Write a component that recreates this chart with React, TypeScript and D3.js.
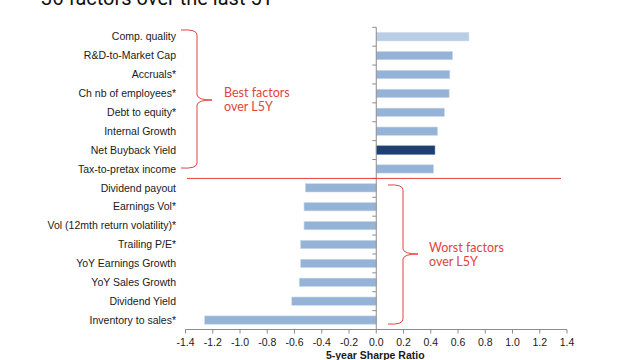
import { useEffect, useRef } from "react";
import * as d3 from "d3";

// factor names, top to bottom
const categories = [
  "Comp. quality",
  "R&D-to-Market Cap",
  "Accruals*",
  "Ch nb of employees*",
  "Debt to equity*",
  "Internal Growth",
  "Net Buyback Yield",
  "Tax-to-pretax income",
  "Dividend payout",
  "Earnings Vol*",
  "Vol (12mth return volatility)*",
  "Trailing P/E*",
  "YoY Earnings Growth",
  "YoY Sales Growth",
  "Dividend Yield",
  "Inventory to sales*",
];

// 5-year Sharpe ratio
const sharpe = [
  0.68, 0.56, 0.54, 0.535, 0.5, 0.45, 0.43, 0.42,
  -0.52, -0.53, -0.53, -0.555, -0.555, -0.565, -0.62, -1.26,
];

// 0 = normal, 1 = light, 2 = highlight
const barKind = [1, 0, 0, 0, 0, 0, 2, 0, 0, 0, 0, 0, 0, 0, 0, 0];

const xTicks = [-1.4, -1.2, -1.0, -0.8, -0.6, -0.4, -0.2, 0.0, 0.2, 0.4, 0.6, 0.8, 1.0, 1.2, 1.4];

const RED = "#e2433d";

function bracePath(xTip: number, xv: number, xPt: number, y0: number, ym: number, y1: number) {
  const p = d3.path();
  const r = 5;
  p.moveTo(xTip, y0);
  p.quadraticCurveTo(xv, y0 - 1, xv, y0 + r);
  p.lineTo(xv, ym - r);
  p.quadraticCurveTo(xv + 1, ym, xPt, ym);
  p.quadraticCurveTo(xv + 1, ym, xv, ym + r);
  p.lineTo(xv, y1 - r);
  p.quadraticCurveTo(xv, y1 + 1, xTip, y1);
  return p.toString();
}

export default function App() {
  const svgRef = useRef<SVGSVGElement>(null);

  useEffect(() => {
    if (!svgRef.current) return;
    document.body.style.margin = "0";
    const svg = d3.select(svgRef.current);
    svg.selectAll("*").remove();

    const x = d3.scaleLinear().domain([-1.4, 1.4]).range([185.5, 567]);
    const y = d3
      .scaleBand<string>()
      .domain(categories)
      .range([27.3, 329.5])
      .paddingInner(0.56)
      .paddingOuter(0.28);
    const step = y.step();
    const top = 27.3;

    // title (cut off at the top of the frame)
    svg
      .append("text")
      .attr("x", 41)
      .attr("y", 5)
      .attr("font-family", "Roboto, 'Liberation Sans', Arial, sans-serif")
      .attr("font-size", "20px")
      .attr("fill", "#111")
      .text("36 factors over the last 5Y");

    // bars
    const colors = ["#95b3d7", "#b9cde5", "#1f3f73"];
    svg
      .append("g")
      .selectAll("rect")
      .data(categories)
      .join("rect")
      .attr("x", (_, i) => x(Math.min(0, sharpe[i])))
      .attr("y", (d) => y(d)!)
      .attr("width", (_, i) => Math.abs(x(sharpe[i]) - x(0)))
      .attr("height", y.bandwidth())
      .attr("fill", (_, i) => colors[barKind[i]])
      .attr("stroke", (_, i) => (barKind[i] === 2 ? "#2c4f86" : "#c9d8ea"))
      .attr("stroke-width", 0.6);

    // vertical axis at zero
    const axisColor = "#8c8c8c";
    const g = svg.append("g");
    g.append("line")
      .attr("x1", x(0))
      .attr("x2", x(0))
      .attr("y1", top)
      .attr("y2", y.range()[1])
      .attr("stroke", axisColor)
      .attr("stroke-width", 1);
    g.selectAll(".yt")
      .data(d3.range(categories.length + 1))
      .join("line")
      .attr("x1", x(0) - 4)
      .attr("x2", x(0))
      .attr("y1", (i) => top + i * step)
      .attr("y2", (i) => top + i * step)
      .attr("stroke", axisColor);

    // category labels
    svg
      .append("g")
      .selectAll("text")
      .data(categories)
      .join("text")
      .attr("x", 176)
      .attr("y", (d) => y(d)! + y.bandwidth() / 2)
      .attr("dy", "0.35em")
      .attr("text-anchor", "end")
      .attr("font-family", "'Liberation Sans', Arial, sans-serif")
      .attr("font-size", "10.5px")
      .attr("fill", "#1a1a1a")
      .text((d) => d);

    // bottom axis
    const yb = y.range()[1];
    const gx = svg.append("g");
    gx.append("line")
      .attr("x1", x(-1.4))
      .attr("x2", x(1.4))
      .attr("y1", yb)
      .attr("y2", yb)
      .attr("stroke", axisColor);
    gx.selectAll(".xt")
      .data(xTicks)
      .join("line")
      .attr("x1", (d) => x(d))
      .attr("x2", (d) => x(d))
      .attr("y1", yb)
      .attr("y2", yb + 4)
      .attr("stroke", axisColor);
    gx.selectAll("text")
      .data(xTicks)
      .join("text")
      .attr("x", (d) => x(d))
      .attr("y", yb + 16)
      .attr("text-anchor", "middle")
      .attr("font-family", "'Liberation Sans', Arial, sans-serif")
      .attr("font-size", "10.5px")
      .attr("fill", "#1a1a1a")
      .text((d) => d3.format(".1f")(d).replace("−", "-"));
    svg
      .append("text")
      .attr("x", x(0) - 1)
      .attr("y", 359)
      .attr("text-anchor", "middle")
      .attr("font-family", "'Liberation Sans', Arial, sans-serif")
      .attr("font-size", "10.5px")
      .attr("font-weight", "bold")
      .attr("fill", "#1a1a1a")
      .text("5-year Sharpe Ratio");

    // separator between best and worst
    const ySep = top + 8 * step;
    svg
      .append("line")
      .attr("x1", 187)
      .attr("x2", 561)
      .attr("y1", ySep)
      .attr("y2", ySep)
      .attr("stroke", RED)
      .attr("stroke-width", 1);

    // braces
    svg
      .append("path")
      .attr("d", bracePath(181, 197, 212, 30, 100, 168))
      .attr("fill", "none")
      .attr("stroke", RED)
      .attr("stroke-width", 1);
    svg
      .append("path")
      .attr("d", bracePath(388, 403, 418, 185, 254, 324))
      .attr("fill", "none")
      .attr("stroke", RED)
      .attr("stroke-width", 1);

    // annotations
    const note = (xp: number, yp: number, lines: string[]) => {
      const t = svg
        .append("text")
        .attr("x", xp)
        .attr("y", yp)
        .attr("font-family", "Lato, 'Open Sans', sans-serif")
        .attr("font-size", "12.5px")
        .attr("fill", RED);
      lines.forEach((l, i) =>
        t.append("tspan").attr("x", xp).attr("dy", i === 0 ? 0 : 14).text(l)
      );
    };
    note(224, 97, ["Best factors", "over L5Y"]);
    note(429, 252, ["Worst factors", "over L5Y"]);
  }, []);

  return (
    <svg
      ref={svgRef}
      width={640}
      height={360}
      style={{ position: "absolute", left: 0, top: 0, background: "#fff" }}
    />
  );
}
